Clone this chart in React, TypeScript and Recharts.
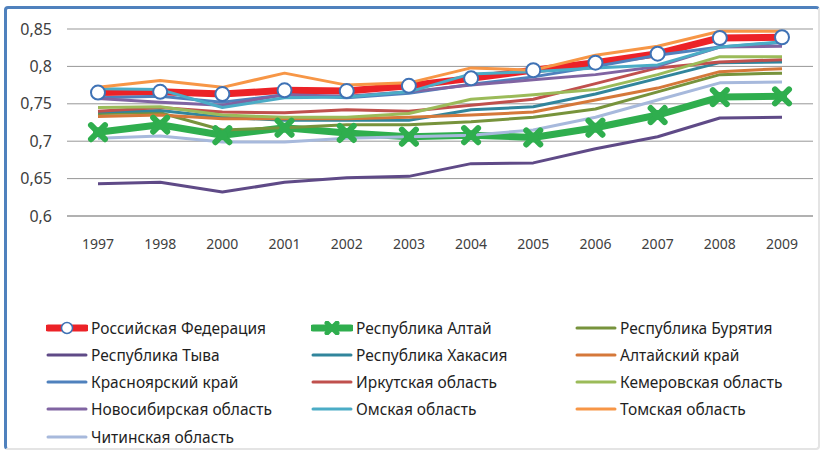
import React from 'react';
import { LineChart, Line, XAxis, YAxis, CartesianGrid } from 'recharts';

const years = ['1997', '1998', '2000', '2001', '2002', '2003', '2004', '2005', '2006', '2007', '2008', '2009'];
const yTicks = [0.6, 0.65, 0.7, 0.75, 0.8, 0.85];

const russia = [0.765, 0.766, 0.763, 0.768, 0.767, 0.774, 0.784, 0.795, 0.805, 0.817, 0.838, 0.839];
const altai = [0.712, 0.722, 0.708, 0.718, 0.711, 0.706, 0.708, 0.705, 0.718, 0.735, 0.759, 0.760];
const buryatia = [0.737, 0.738, 0.715, 0.718, 0.722, 0.722, 0.726, 0.732, 0.743, 0.766, 0.789, 0.791];
const tyva = [0.643, 0.645, 0.632, 0.645, 0.651, 0.653, 0.670, 0.671, 0.690, 0.706, 0.731, 0.732];
const khakasia = [0.739, 0.741, 0.732, 0.728, 0.728, 0.728, 0.742, 0.746, 0.763, 0.784, 0.805, 0.806];
const altaiKrai = [0.733, 0.735, 0.730, 0.730, 0.730, 0.732, 0.735, 0.739, 0.755, 0.771, 0.793, 0.797];
const krasnoyarsk = [0.758, 0.760, 0.752, 0.762, 0.758, 0.764, 0.776, 0.786, 0.800, 0.815, 0.826, 0.832];
const irkutsk = [0.740, 0.745, 0.739, 0.738, 0.742, 0.740, 0.748, 0.756, 0.777, 0.798, 0.806, 0.809];
const kemerovo = [0.745, 0.746, 0.735, 0.732, 0.732, 0.737, 0.756, 0.762, 0.769, 0.789, 0.813, 0.813];
const novosibirsk = [0.757, 0.752, 0.748, 0.762, 0.760, 0.766, 0.775, 0.782, 0.789, 0.800, 0.826, 0.827];
const omsk = [0.770, 0.769, 0.745, 0.758, 0.759, 0.766, 0.790, 0.793, 0.798, 0.802, 0.826, 0.833];
const tomsk = [0.772, 0.781, 0.772, 0.791, 0.775, 0.778, 0.798, 0.795, 0.815, 0.827, 0.847, 0.847];
const chita = [0.704, 0.707, 0.699, 0.699, 0.704, 0.706, 0.708, 0.715, 0.732, 0.755, 0.778, 0.779];

type Series = { key: string; name: string; color: string; values: number[]; width: number; marker?: 'circle' | 'cross' };

const series: Series[] = [
  { key: 'rf', name: 'Российская Федерация', color: '#ec2227', values: russia, width: 7, marker: 'circle' },
  { key: 'altai', name: 'Республика Алтай', color: '#2fae4e', values: altai, width: 7, marker: 'cross' },
  { key: 'buryatia', name: 'Республика Бурятия', color: '#77933c', values: buryatia, width: 3 },
  { key: 'tyva', name: 'Республика Тыва', color: '#5f4a87', values: tyva, width: 3 },
  { key: 'khakasia', name: 'Республика Хакасия', color: '#31859c', values: khakasia, width: 3 },
  { key: 'altaiKrai', name: 'Алтайский край', color: '#d5783a', values: altaiKrai, width: 3 },
  { key: 'krasnoyarsk', name: 'Красноярский край', color: '#4f81bd', values: krasnoyarsk, width: 3 },
  { key: 'irkutsk', name: 'Иркутская область', color: '#c0504d', values: irkutsk, width: 3 },
  { key: 'kemerovo', name: 'Кемеровская область', color: '#9bbb59', values: kemerovo, width: 3 },
  { key: 'novosibirsk', name: 'Новосибирская область', color: '#8064a2', values: novosibirsk, width: 3 },
  { key: 'omsk', name: 'Омская область', color: '#4bacc6', values: omsk, width: 3 },
  { key: 'tomsk', name: 'Томская область', color: '#f79646', values: tomsk, width: 3 },
  { key: 'chita', name: 'Читинская область', color: '#a7b9dc', values: chita, width: 3 },
];

const data = years.map((y, i) => {
  const row: Record<string, any> = { year: y };
  series.forEach((s) => {
    row[s.key] = s.values[i];
  });
  return row;
});

const FONT = '"Noto Sans", "Open Sans", sans-serif';

const CircleDot = (props: any) => {
  const { cx, cy } = props;
  if (cx == null || cy == null) return null;
  return <circle cx={cx} cy={cy} r={7} fill="#ffffff" stroke="#3f72b5" strokeWidth={2} />;
};

const CrossDot = (props: any) => {
  const { cx, cy, stroke } = props;
  if (cx == null || cy == null) return null;
  const d = 7;
  return (
    <g>
      <path d={`M${cx - d},${cy - d}L${cx + d},${cy + d}M${cx - d},${cy + d}L${cx + d},${cy - d}`} stroke={stroke} strokeWidth={6} strokeLinecap="round" />
      <circle cx={cx} cy={cy} r={5} fill={stroke} />
    </g>
  );
};

const LegendSample = ({ s }: { s: Series }) => (
  <svg width={42} height={14} style={{ display: 'block' }}>
    <line x1={2} y1={7} x2={40} y2={7} stroke={s.color} strokeWidth={s.marker ? 7 : 3} strokeLinecap="round" />
    {s.marker === 'circle' && <circle cx={21} cy={7} r={5.5} fill="#fff" stroke="#3f72b5" strokeWidth={1.5} />}
    {s.marker === 'cross' && (
      <path d="M16,2L26,12M16,12L26,2" stroke={s.color} strokeWidth={5} strokeLinecap="round" />
    )}
  </svg>
);

const colX = [46, 311, 575];
const rowY = [328, 354.5, 381.5, 409, 436.5];

export default function App() {
  return (
    <div style={{ position: 'absolute', left: 0, top: 0, width: 830, height: 458, background: '#ffffff', fontFamily: FONT, overflow: 'hidden' }}>
      <div
        style={{
          position: 'absolute',
          left: 4,
          top: 6,
          width: 816,
          height: 444,
          borderLeft: '3px solid #4f81bd',
          borderTop: '3px solid #4f81bd',
          borderRight: '2px solid #e4e4e4',
          borderBottom: '2px solid #e4e4e4',
          borderRadius: 4,
          boxSizing: 'border-box',
        }}
      />
      <div style={{ position: 'absolute', left: 0, top: 0 }}>
        <LineChart width={830} height={458} data={data} margin={{ top: 29, right: 17, bottom: 212, left: 0 }}>
          <CartesianGrid vertical={false} stroke="#979797" strokeWidth={1} />
          <XAxis
            dataKey="year"
            padding={{ left: 31, right: 31 }}
            axisLine={{ stroke: '#979797' }}
            tickLine={false}
            tickSize={0}
            tickMargin={23}
            height={30}
            interval={0}
            tick={{ fill: '#404040', fontSize: 14, fontFamily: FONT }}
          />
          <YAxis
            domain={[0.6, 0.85]}
            ticks={yTicks}
            width={67}
            axisLine={false}
            tickLine={false}
            tickSize={0}
            tickMargin={15}
            tickFormatter={(v: number) => String(v).replace('.', ',')}
            tick={{ fill: '#404040', fontSize: 16, fontFamily: FONT }}
          />
          {series.map((s) => (
            <Line
              key={s.key}
              type="linear"
              dataKey={s.key}
              name={s.name}
              stroke={s.color}
              strokeWidth={s.width}
              isAnimationActive={false}
              dot={s.marker === 'circle' ? <CircleDot /> : s.marker === 'cross' ? <CrossDot /> : false}
              activeDot={false}
              strokeLinejoin="round"
            />
          ))}
        </LineChart>
      </div>
      {series.map((s, i) => {
        const col = i % 3;
        const row = Math.floor(i / 3);
        return (
          <div
            key={s.key}
            style={{
              position: 'absolute',
              left: colX[col],
              top: rowY[row] - 10,
              height: 20,
              display: 'flex',
              alignItems: 'center',
              fontSize: 15.5,
              color: '#1f1f1f',
              whiteSpace: 'nowrap',
            }}
          >
            <LegendSample s={s} />
            <span style={{ marginLeft: 3 }}>{s.name}</span>
          </div>
        );
      })}
    </div>
  );
}
